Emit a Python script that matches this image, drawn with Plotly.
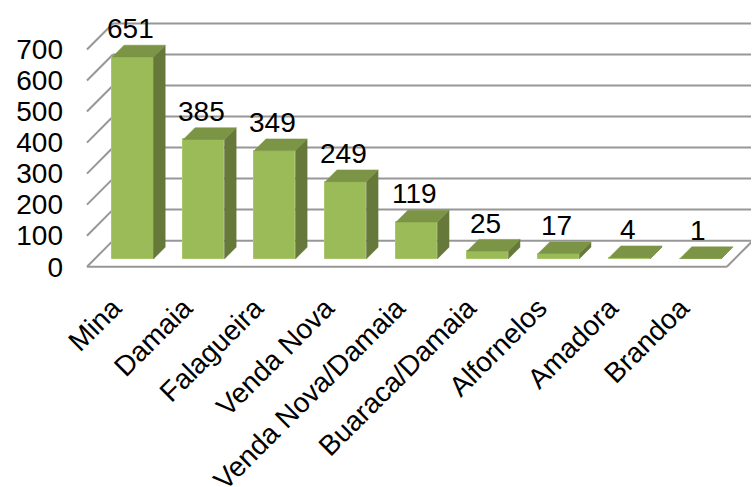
import plotly.graph_objects as go

categories = ["Mina", "Damaia", "Falagueira", "Venda Nova", "Venda Nova/Damaia",
              "Buaraca/Damaia", "Alfornelos", "Amadora", "Brandoa"]
values = [651, 385, 349, 249, 119, 25, 17, 4, 1]
y_ticks = [0, 100, 200, 300, 400, 500, 600, 700]

# 3D projection parameters (in data units)
DX = 0.366   # horizontal shift of full depth
DY = 84      # vertical shift of full depth
F, B = 0.30, 0.75   # bar front / back depth fraction
W = 0.58            # bar width
XL, XR = -0.538, 8.48  # floor extent
LABEL_SHIFT = -0.17    # rotated label anchor offset

FRONT = "#9BBB59"
SIDE = "#66793A"
TOP = "#7B9446"
GRID = "#979797"
FONT = "Liberation Sans, Arial, sans-serif"

fig = go.Figure()

shapes = []
for t in y_ticks:
    shapes.append(dict(type="line", xref="x", yref="y", layer="below",
                       x0=XL, y0=t, x1=XL + DX, y1=t + DY,
                       line=dict(color=GRID, width=2)))
    shapes.append(dict(type="line", xref="x", yref="y", layer="below",
                       x0=XL + DX, y0=t + DY, x1=XR + DX, y1=t + DY,
                       line=dict(color=GRID, width=2)))
shapes.append(dict(type="line", xref="x", yref="y", layer="below",
                   x0=XL, y0=0, x1=XR, y1=0, line=dict(color=GRID, width=2)))
shapes.append(dict(type="line", xref="x", yref="y", layer="below",
                   x0=XR, y0=0, x1=XR + DX, y1=DY, line=dict(color=GRID, width=2)))

xs = list(range(len(categories)))

fig.add_trace(go.Bar(
    x=[i + F * DX for i in xs], y=values, base=[F * DY] * len(xs), width=W,
    marker=dict(color=FRONT, line=dict(color="#A9C76A", width=1)),
    hoverinfo="skip", showlegend=False))

side_x, side_y, top_x, top_y = [], [], [], []
for i, v in zip(xs, values):
    r = i + W / 2
    l = i - W / 2
    side_x += [r + F * DX, r + B * DX, r + B * DX, r + F * DX, r + F * DX, None]
    side_y += [F * DY, B * DY, v + B * DY, v + F * DY, F * DY, None]
    top_x += [l + F * DX, r + F * DX, r + B * DX, l + B * DX, l + F * DX, None]
    top_y += [v + F * DY, v + F * DY, v + B * DY, v + B * DY, v + F * DY, None]

fig.add_trace(go.Scatter(x=side_x, y=side_y, mode="lines", fill="toself",
                         fillcolor=SIDE, line=dict(color=SIDE, width=0.5),
                         hoverinfo="skip", showlegend=False))
fig.add_trace(go.Scatter(x=top_x, y=top_y, mode="lines", fill="toself",
                         fillcolor=TOP, line=dict(color=TOP, width=0.5),
                         hoverinfo="skip", showlegend=False))

annotations = []
for i, v in zip(xs, values):
    annotations.append(dict(x=i + F * DX - 0.03, y=v + F * DY, xref="x", yref="y",
                            text=str(v), showarrow=False, yanchor="middle",
                            yshift=28, font=dict(size=28, color="#000000", family=FONT)))

fig.update_layout(
    width=752, height=487,
    margin=dict(l=84, r=1, t=3, b=211, autoexpand=False),
    paper_bgcolor="white", plot_bgcolor="white",
    shapes=shapes, annotations=annotations,
    bargap=0,
    xaxis=dict(range=[-0.58, 8.82], tickvals=[i + LABEL_SHIFT for i in xs],
               ticktext=categories, tickangle=-45,
               showgrid=False, zeroline=False, showline=False, ticks="",
               automargin=False, ticklabelstandoff=9,
               tickfont=dict(size=28, color="#000000", family=FONT)),
    yaxis=dict(range=[-30, 850], tickvals=y_ticks, ticktext=[str(t) for t in y_ticks],
               showgrid=False, zeroline=False, showline=False, ticks="",
               automargin=False, ticklabelstandoff=20,
               tickfont=dict(size=28, color="#000000", family=FONT)),
)

fig.write_html("out.html", config={"displayModeBar": False},
               post_script="document.body.style.margin='0';document.body.style.overflow='hidden';")
